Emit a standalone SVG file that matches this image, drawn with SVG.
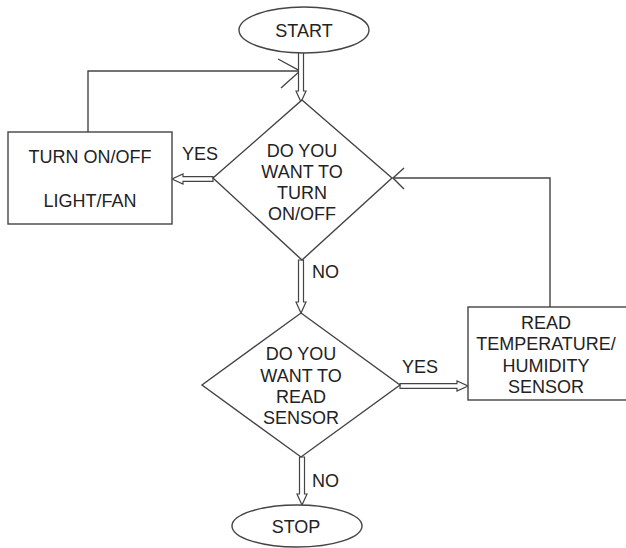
<svg xmlns="http://www.w3.org/2000/svg" width="626" height="548" viewBox="0 0 626 548">
<style>
.s{fill:#fff;stroke:#444;stroke-width:1.4}
.c{fill:none;stroke:#444;stroke-width:1.4}
.da{fill:#fff;stroke:#444;stroke-width:1.2}
text{font-family:"Liberation Sans",Arial,sans-serif;font-size:18px;fill:#222;text-anchor:middle}
.l{text-anchor:start}
</style>
<rect width="626" height="548" fill="#fff"/>
<g id="connectors">
<polyline class="c" points="88,132 88,71 300,71"/>
<polyline class="c" points="278,59 300,71 281,88"/>
<polyline class="c" points="550,307 550,178 393,178"/>
<polyline class="c" points="404,168 393,178 404,189"/>
<path class="da" d="M298.5,52 V91 H296 L301,102 L306,91 H303.5 V52 Z"/>
<path class="da" d="M213,176.7 H183 V174 L172,179 L183,184 V181.3 H213 Z"/>
<path class="da" d="M298.5,260 V302 H296 L301,313 L306,302 H303.5 V260 Z"/>
<path class="da" d="M400,383.7 H457 V381 L468,386 L457,391 V388.3 H400 Z"/>
<path class="da" d="M299.5,457 V494 H297 L302,505 L307,494 H304.5 V457 Z"/>
<text class="l" x="182" y="160">YES</text>
<text class="l" x="312" y="278">NO</text>
<text class="l" x="402" y="373">YES</text>
<text class="l" x="312" y="487">NO</text>
</g>
<g id="start">
<ellipse class="s" cx="304" cy="30" rx="65" ry="23"/>
<text x="304" y="37">START</text>
</g>
<g id="decision1">
<polygon class="s" points="302,100 392,178 302,260 213,178"/>
<text x="302" y="157">DO YOU</text>
<text x="302" y="178">WANT TO</text>
<text x="302" y="199">TURN</text>
<text x="302" y="220">ON/OFF</text>
</g>
<g id="turn-on-off">
<rect class="s" x="8" y="132" width="164" height="92"/>
<text x="90" y="163">TURN ON/OFF</text>
<text x="90" y="207">LIGHT/FAN</text>
</g>
<g id="decision2">
<polygon class="s" points="301,313 400,385 301,457 202,385"/>
<text x="301" y="360">DO YOU</text>
<text x="301" y="382">WANT TO</text>
<text x="301" y="403">READ</text>
<text x="301" y="424">SENSOR</text>
</g>
<g id="read-sensor">
<rect class="s" x="468" y="307" width="162" height="93"/>
<text x="546" y="329">READ</text>
<text x="546" y="350">TEMPERATURE/</text>
<text x="546" y="372">HUMIDITY</text>
<text x="546" y="393">SENSOR</text>
</g>
<g id="stop">
<ellipse class="s" cx="297" cy="526" rx="65" ry="21"/>
<text x="296" y="533">STOP</text>
</g>
</svg>
